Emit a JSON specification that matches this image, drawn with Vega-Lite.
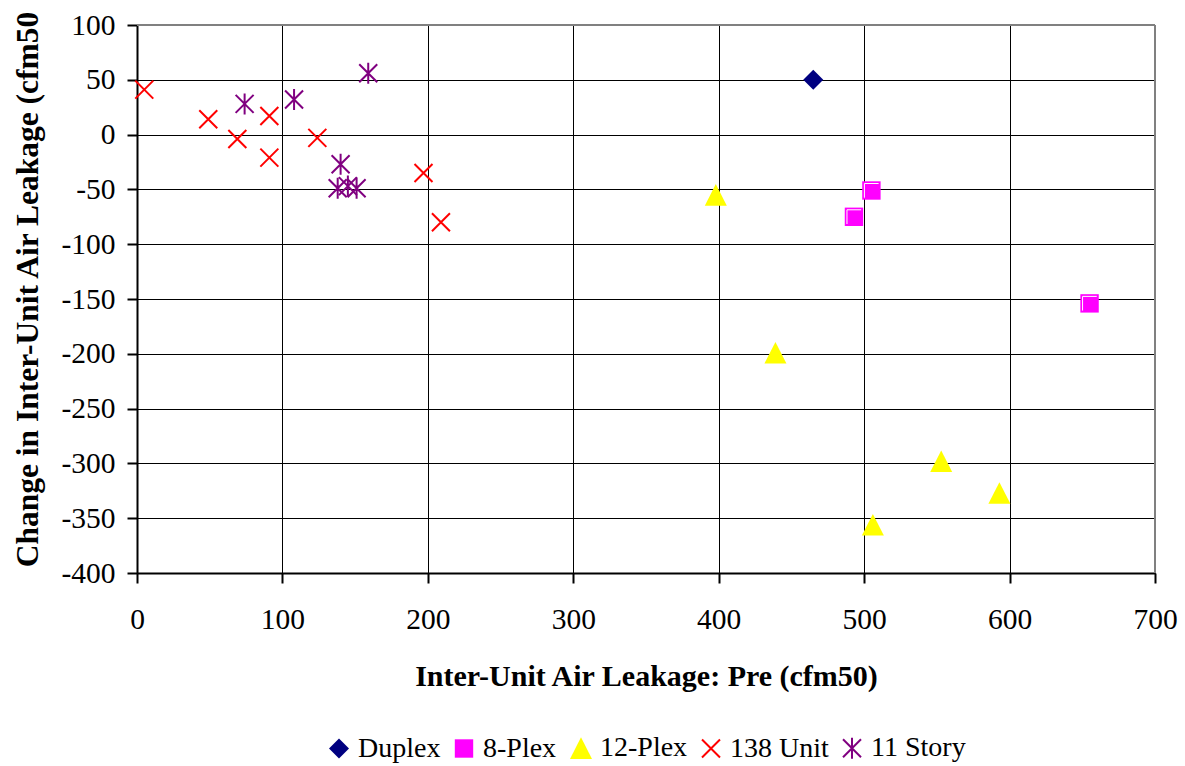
{
  "$schema": "https://vega.github.io/schema/vega-lite/v6.json",
  "autosize": {"type": "none"},
  "padding": {"left": 137, "top": 25, "right": 30, "bottom": 193},
  "width": 1018,
  "height": 548,
  "background": "white",
  "config": {
    "font": "Liberation Serif",
    "view": {"stroke": null},
    "axis": {
      "grid": true,
      "gridColor": "#000000",
      "gridWidth": 1,
      "gridOpacity": 1,
      "domainColor": "#000000",
      "domainWidth": 2,
      "tickColor": "#000000",
      "tickWidth": 2,
      "tickSize": 10,
      "labelFont": "Liberation Serif",
      "labelFontSize": 29.5,
      "labelColor": "#000000",
      "titleFont": "Liberation Serif",
      "titleFontSize": 30,
      "titleFontWeight": "bold",
      "titleColor": "#000000"
    }
  },
  "data": {
    "values": [
      {"series": "Duplex", "pre": 465, "change": 50},
      {"series": "8-Plex", "pre": 505, "change": -51},
      {"series": "8-Plex", "pre": 493, "change": -75},
      {"series": "8-Plex", "pre": 655, "change": -154},
      {"series": "12-Plex", "pre": 398, "change": -55},
      {"series": "12-Plex", "pre": 439, "change": -199},
      {"series": "12-Plex", "pre": 553, "change": -298},
      {"series": "12-Plex", "pre": 593, "change": -327},
      {"series": "12-Plex", "pre": 506, "change": -356},
      {"series": "138 Unit", "pre": 5, "change": 41},
      {"series": "138 Unit", "pre": 49, "change": 14},
      {"series": "138 Unit", "pre": 69, "change": -4},
      {"series": "138 Unit", "pre": 91, "change": 17},
      {"series": "138 Unit", "pre": 91, "change": -21},
      {"series": "138 Unit", "pre": 124, "change": -3},
      {"series": "138 Unit", "pre": 197, "change": -35},
      {"series": "138 Unit", "pre": 209, "change": -80},
      {"series": "11 Story", "pre": 74, "change": 28},
      {"series": "11 Story", "pre": 108, "change": 32},
      {"series": "11 Story", "pre": 159, "change": 56},
      {"series": "11 Story", "pre": 140, "change": -27},
      {"series": "11 Story", "pre": 138, "change": -49},
      {"series": "11 Story", "pre": 145, "change": -47},
      {"series": "11 Story", "pre": 151, "change": -49}
    ]
  },
  "encoding": {
    "x": {
      "field": "pre",
      "type": "quantitative",
      "scale": {"domain": [0, 700], "nice": false, "zero": false},
      "axis": {
        "title": "Inter-Unit Air Leakage: Pre (cfm50)",
        "values": [0, 100, 200, 300, 400, 500, 600, 700],
        "labelBaseline": "alphabetic",
        "labelPadding": 45,
        "labelFlush": false,
        "labelExpr": "datum.value < 0 ? '-' + abs(datum.value) : '' + datum.value",
        "titleFontSize": 30,
        "titleX": 509,
        "titleY": 112,
        "titleBaseline": "alphabetic",
        "titleAnchor": "middle"
      }
    },
    "y": {
      "field": "change",
      "type": "quantitative",
      "scale": {"domain": [-400, 100], "nice": false, "zero": false},
      "axis": {
        "title": "Change in Inter-Unit Air Leakage (cfm50",
        "values": [-400, -350, -300, -250, -200, -150, -100, -50, 0, 50, 100],
        "labelPadding": 12,
        "labelBaseline": "middle",
        "labelFlush": false,
        "labelExpr": "datum.value < 0 ? '-' + abs(datum.value) : '' + datum.value",
        "titleFontSize": 31.5,
        "titleAngle": -90,
        "titleX": -100,
        "titleY": 264,
        "titleBaseline": "alphabetic",
        "titleAlign": "center"
      }
    }
  },
  "layer": [
    {
      "mark": {"type": "rule", "color": "#808080", "strokeWidth": 2},
      "encoding": {"y": {"datum": 100}, "x": null}
    },
    {
      "mark": {"type": "rule", "color": "#808080", "strokeWidth": 2},
      "encoding": {"x": {"datum": 700}, "y": null}
    },
    {
      "mark": {"type": "point", "filled": true, "opacity": 1, "size": 400, "strokeWidth": 2},
      "encoding": {
        "shape": {
          "field": "series",
          "type": "nominal",
          "scale": {
            "domain": ["Duplex", "8-Plex", "12-Plex", "138 Unit", "11 Story"],
            "range": [
              "M0,-1L1,0L0,1L-1,0Z",
              "M-0.92,-0.92L0.92,-0.92L0.92,0.92L-0.92,0.92Z",
              "M0,-1.08L1.1,1.08L-1.1,1.08Z",
              "M-0.9,-0.9L0.9,0.9M-0.9,0.9L0.9,-0.9",
              "M-0.9,-0.9L0.9,0.9M-0.9,0.9L0.9,-0.9M0,-1.05L0,1.05"
            ]
          },
          "legend": {
            "title": null,
            "orient": "none",
            "direction": "horizontal",
            "legendX": 188,
            "legendY": 709,
            "padding": 0,
            "symbolSize": 400,
            "symbolStrokeWidth": 2,
            "symbolOpacity": 1,
            "labelFont": "Liberation Serif",
            "labelFontSize": 28,
            "labelColor": "#000000",
            "labelOffset": 5,
            "columnPadding": 9
          }
        },
        "fill": {
          "field": "series",
          "type": "nominal",
          "scale": {
            "domain": ["Duplex", "8-Plex", "12-Plex", "138 Unit", "11 Story"],
            "range": ["#000080", "#FF00FF", "#FFFF00", "transparent", "transparent"]
          },
          "legend": {
            "title": null,
            "orient": "none",
            "direction": "horizontal",
            "legendX": 188,
            "legendY": 709,
            "padding": 0,
            "symbolSize": 400,
            "symbolStrokeWidth": 2,
            "symbolOpacity": 1,
            "labelFont": "Liberation Serif",
            "labelFontSize": 28,
            "labelColor": "#000000",
            "labelOffset": 5,
            "columnPadding": 9
          }
        },
        "stroke": {
          "field": "series",
          "type": "nominal",
          "scale": {
            "domain": ["Duplex", "8-Plex", "12-Plex", "138 Unit", "11 Story"],
            "range": ["transparent", "transparent", "transparent", "#FF0000", "#800080"]
          },
          "legend": {
            "title": null,
            "orient": "none",
            "direction": "horizontal",
            "legendX": 188,
            "legendY": 709,
            "padding": 0,
            "symbolSize": 400,
            "symbolStrokeWidth": 2,
            "symbolOpacity": 1,
            "labelFont": "Liberation Serif",
            "labelFontSize": 28,
            "labelColor": "#000000",
            "labelOffset": 5,
            "columnPadding": 9
          }
        }
      }
    },
    {
      "transform": [{"filter": "datum.series === '8-Plex'"}],
      "mark": {"type": "point", "filled": false, "opacity": 1, "size": 400, "strokeWidth": 1, "color": "#FFFFFF", "shape": "M-0.7,0.72L-0.7,-0.7L0.72,-0.7"},
      "encoding": {}
    }
  ]
}
